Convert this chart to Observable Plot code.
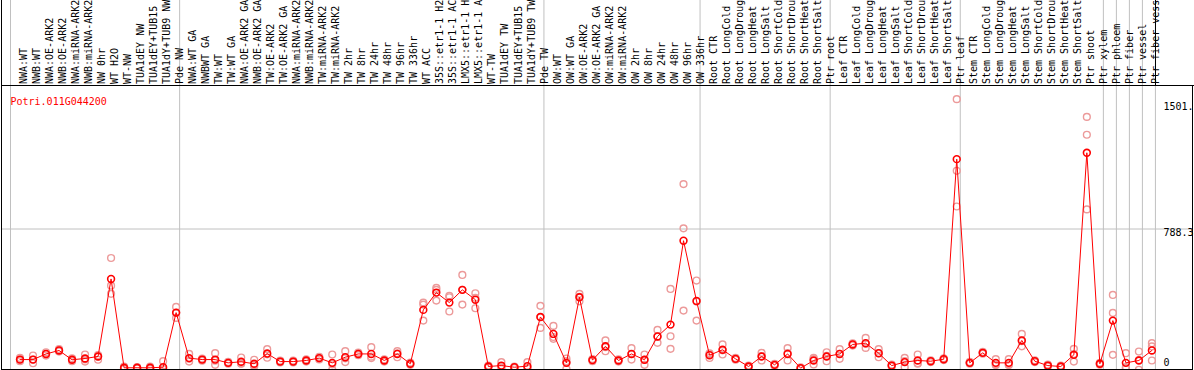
<!DOCTYPE html>
<html>
<head>
<meta charset="utf-8">
<script src="https://cdn.jsdelivr.net/npm/d3@7"></script>
<script src="https://cdn.jsdelivr.net/npm/@observablehq/plot@0.6"></script>
<style>
html, body { margin: 0; padding: 0; background: #fff; }
#chart svg { display: block; }
</style>
</head>
<body>
<div id="chart"></div>
<script>
const geneId = "Potri.011G044200";

const categories = [
  "NWA:WT","NWB:WT","NWA:OE-ARK2","NWB:OE-ARK2","NWA:miRNA-ARK2","NWB:miRNA-ARK2","NW 0hr","WT H2O","WT-NW","TUA1dEY NW","TUA1dEY+TUB15","TUA1dY+TUB9 NW","Pde NW",
  "NWA:WT GA","NWBWT GA","TW:WT","TW:WT GA","NWA:OE-ARK2 GA","NWB:OE-ARK2 GA","TW:OE-ARK2","TW:OE-ARK2 GA","NWA:miRNA-ARK2","NWB:miRNA-ARK2","TW:miRNA-ARK2","TW:miRNA-ARK2","TW 2hr","TW 8hr","TW 24hr","TW 48hr","TW 96hr","TW 336hr","WT ACC","35S::etr1-1 H2","35S::etr1-1 AC","LMX5::etr1-1 H","LMX5::etr1-1 A","WT-TW","TUA1dEY TW","TUA1dEY+TUB15","TUA1dY+TUB9 TW","Pde TW",
  "OW:WT","OW:WT GA","OW:OE-ARK2","OW:OE-ARK2 GA","OW:miRNA-ARK2","OW:miRNA-ARK2","OW 2hr","OW 8hr","OW 24hr","OW 48hr","OW 96hr","OW 336hr",
  "Root CTR","Root LongCold","Root LongDroug","Root LongHeat","Root LongSalt","Root ShortCold","Root ShortDrou","Root ShortHeat","Root ShortSalt","Ptr root",
  "Leaf CTR","Leaf LongCold","Leaf LongDroug","Leaf LongHeat","Leaf LongSalt","Leaf ShortCold","Leaf ShortDrou","Leaf ShortHeat","Leaf ShortSalt","Ptr leaf",
  "Stem CTR","Stem LongCold","Stem LongDroug","Stem LongHeat","Stem LongSalt","Stem ShortCold","Stem ShortDrou","Stem ShortHeat","Stem ShortSalt","Ptr shoot","Ptr xylem",
  "Ptr phloem","Ptr fiber","Ptr vessel","Ptr fiber vess"
];

const means = [
  71,71,102,121,70,77,88,514,26,26,26,29,329,
  79,71,71,53,59,48,104,60,60,66,79,53,84,102,102,66,102,48,344,439,384,454,400,33,38,29,35,305,
  212,53,413,68,144,66,102,70,198,263,724,393,
  95,125,75,33,88,42,102,24,66,88,
  102,154,161,106,38,57,66,62,73,1172,
  53,108,53,53,176,62,38,33,97,1207,48,
  285,53,66,121
];

const replicates = [
  [62,71,80],[93,71,51],[93,102,111],[115,121,128],[62,72,78],[99,72,60],[95,88,70],[629,477,432],[20,26,32],[22,26,30],[20,26,32],[62,20,5],[360,300,327],
  [102,60,75],[65,71,77],[106,42,65],[48,53,58],[82,48,50],[70,40,35],[128,81,100],[55,60,65],[55,60,65],[60,66,72],[72,79,86],[99,15,45],[117,57,78],[95,102,109],[139,79,87],[60,66,72],[117,84,105],[42,48,54],[384,285,373],[465,395,454],[421,335,413],[536,373,454],[435,353,410],[28,33,38],[57,30,25],[25,29,33],[57,25,22],[366,245,305],
  [256,185,195],[20,62,77],[432,391,416],[62,68,74],[176,117,139],[60,66,72],[134,71,101],[99,42,69],[234,163,197],[459,199,130],[1035,792,340],[505,285,390],
  [80,100,105],[154,99,122],[70,75,80],[28,33,38],[108,66,90],[37,42,47],[134,66,106],[20,24,28],[80,44,74],[111,62,91],
  [128,75,103],[148,154,160],[190,135,158],[128,84,106],[33,38,43],[80,29,62],[99,48,51],[57,62,67],[68,73,78],[1501.5,1108,912],
  [48,53,58],[103,108,113],[73,45,41],[73,45,41],[212,144,172],[57,62,67],[33,38,43],[28,33,38],[130,60,101],[1404,1306,896],[43,48,53],
  [426,327,97],[106,29,24],[115,15,68],[161,143,66]
];

// index of first category of each sample group (plus the end)
const groupStarts = [0, 13, 41, 53, 63, 73, 84, 85, 86, 87, 88];

const yTickValues = [0, 788.3, 1501.5];
const yTickLabels = ["0", "788.3", "1501."];
const yMax = 1576.6;

// ---- build tables
const meanData = means.map((v, i) => ({i, v, name: categories[i]}));
const repData = replicates.flatMap((arr, i) => arr.map(v => ({i, v})));

const W = 1194, H = 370;
const FONT = "'DejaVu Sans Mono', 'Liberation Mono', monospace";
const RED = "#ff0000";
const PALE = "#ec9a9a";
const GRID = "#c0c0c0";
const labelDy = [-10, 4, 8];

const plot = Plot.plot({
  width: W,
  height: H,
  marginLeft: 1,
  marginRight: 2,
  marginTop: 0,
  marginBottom: 1,
  style: {fontFamily: FONT, fontSize: "10px", background: "#fff", color: "#000"},
  x: {type: "linear", domain: [0, categories.length - 1], range: [19.5, 1151.4], axis: null},
  y: {type: "linear", domain: [0, yMax], range: [372, 85], axis: null},
  marks: [
    Plot.ruleY([788.3], {stroke: GRID, strokeWidth: 1}),
    Plot.ruleX(groupStarts, {x: d => d, dx: -9.5, stroke: GRID, strokeWidth: 1}),
    Plot.dot(repData, {x: "i", y: "v", r: 3.4, stroke: PALE, strokeWidth: 1.4, fill: "none", clip: "frame"}),
    Plot.line(meanData, {x: "i", y: "v", stroke: RED, strokeWidth: 1, clip: "frame"}),
    Plot.dot(meanData, {x: "i", y: "v", r: 3.4, stroke: RED, strokeWidth: 1.6, fill: "none", clip: "frame"}),
    Plot.text(categories, {
      x: (d, i) => i, text: d => d, frameAnchor: "top", dy: 83.5,
      rotate: -90, textAnchor: "start", fill: "#000"
    }),
    Plot.text([geneId], {frameAnchor: "top-left", dx: 9, dy: 97, text: d => d, textAnchor: "start", fill: RED}),
    ...yTickValues.map((v, i) => Plot.text([v], {
      y: d => d, text: () => yTickLabels[i], frameAnchor: "right", dx: -29,
      dy: labelDy[i], textAnchor: "start", fill: "#000"
    }))
  ]
});

// frame / border lines (decoration)
const svg = d3.select(plot);
const g = svg.append("g").attr("stroke", "#000").attr("stroke-width", 1).attr("shape-rendering", "crispEdges");
g.append("line").attr("x1", 1.5).attr("x2", 1.5).attr("y1", 0).attr("y2", 370);
g.append("line").attr("x1", 1).attr("x2", W).attr("y1", 85.5).attr("y2", 85.5);
g.append("line").attr("x1", 1).attr("x2", 1193).attr("y1", 369.5).attr("y2", 369.5);
g.append("line").attr("x1", 1192.5).attr("x2", 1192.5).attr("y1", 85).attr("y2", 370);
g.append("line").attr("x1", 1155.5).attr("x2", 1155.5).attr("y1", 0).attr("y2", 85);

document.getElementById("chart").appendChild(plot);
</script>
</body>
</html>
